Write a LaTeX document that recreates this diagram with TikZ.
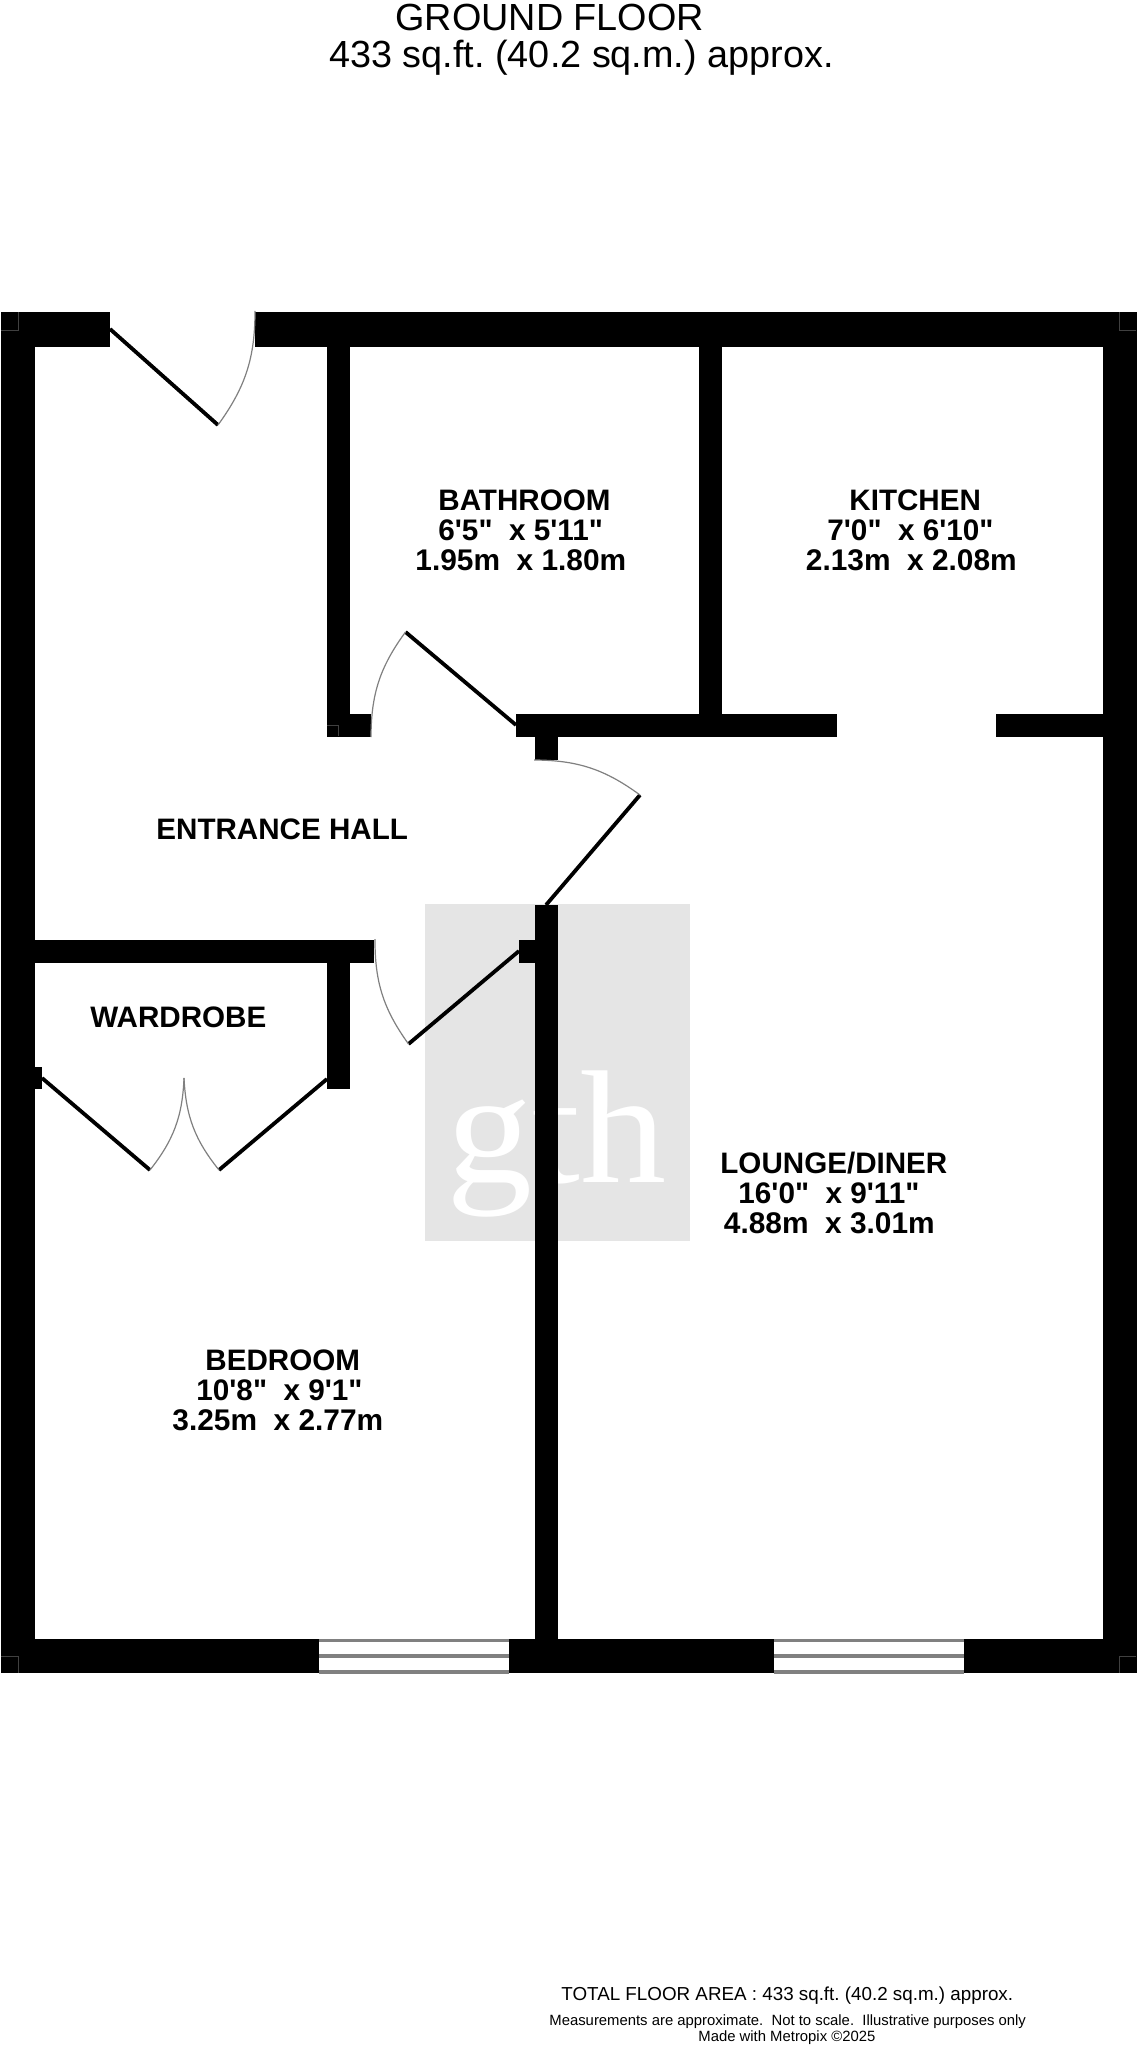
\documentclass[tikz,border=0pt]{standalone}
\usepackage{fontspec}
\newfontfamily\lsans{Liberation Sans}
\newfontfamily\lserif{Liberation Serif}
\frenchspacing
\tikzset{
  x=0.5pt,y=-0.5pt,
  wall/.style={fill=black,draw=none},
  seam/.style={draw=black!75,line width=0.25pt},
  leaf/.style={draw=black,line width=1.9pt},
  swing/.style={draw=black!50,line width=0.6pt},
  pane/.style={draw=black!50,line width=1.6pt},
  lab/.style={anchor=base west,inner sep=0pt,font=\lsans\bfseries\fontsize{14.8}{16}\selectfont},
  feet/.style={anchor=base west,inner sep=0pt,font=\lsans\bfseries\fontsize{14.85}{16}\selectfont},
  metric/.style={anchor=base west,inner sep=0pt,font=\lsans\bfseries\fontsize{14.93}{16}\selectfont},
  ttl/.style={anchor=base west,inner sep=0pt,font=\lsans\fontsize{18.9}{20}\selectfont},
  foot/.style={anchor=base west,inner sep=0pt,font=\lsans\fontsize{9.4}{11}\selectfont},
  small/.style={anchor=base west,inner sep=0pt,font=\lsans\fontsize{7.43}{9}\selectfont},
}
\begin{document}
\begin{tikzpicture}
\useasboundingbox[fill=white] (0,0) rectangle (1138,2048);
% watermark
\fill[black!10] (425,904) rectangle (690,1241);
\node[anchor=base,inner sep=0pt,text=white,font=\lserif\fontsize{80.5}{90}\selectfont] (logo) at (556.5,1182) {\scalebox{1.07}[1]{gth}};
% walls
\fill[wall] (1,312) rectangle (110,347);
\fill[wall] (255,312) rectangle (1136.5,347);
\fill[wall] (1,312) rectangle (35,1673);
\fill[wall] (1103,312) rectangle (1136.5,1673);
\fill[wall] (327,347) rectangle (350,736.5);
\fill[wall] (699,347) rectangle (722,736.5);
\fill[wall] (327,713.5) rectangle (371,736.5);
\fill[wall] (516,713.5) rectangle (837,736.5);
\fill[wall] (996,713.5) rectangle (1103,736.5);
\fill[wall] (535,736) rectangle (558,760);
\fill[wall] (535,905) rectangle (558,1639);
\fill[wall] (519,940) rectangle (535,963);
\fill[wall] (35,940) rectangle (374,963);
\fill[wall] (327,963) rectangle (350,1089);
\fill[wall] (35,1067) rectangle (41.5,1089);
\fill[wall] (1,1639) rectangle (319,1673);
\fill[wall] (509,1639) rectangle (774,1673);
\fill[wall] (964,1639) rectangle (1136.5,1673);
% corner seams
\draw[seam] (1,330) -- (18,330) -- (18,312);
\draw[seam] (1136,330) -- (1119,330) -- (1119,312);
\draw[seam] (1,1656) -- (18,1656) -- (18,1673);
\draw[seam] (1136,1656) -- (1119,1656) -- (1119,1673);
\draw[seam] (327,725) -- (338,725) -- (338,736);
% windows
\draw[pane] (319,1640.5) -- (509,1640.5) (319,1656) -- (509,1656) (319,1672) -- (509,1672);
\draw[pane] (774,1640.5) -- (964,1640.5) (774,1656) -- (964,1656) (774,1672) -- (964,1672);
% doors
\draw[leaf] (110,329) -- (218,425);
\draw[swing] (218,425) to[bend right=18] (255,311);
\draw[leaf] (516,725) -- (405.5,632);
\draw[swing] (405.5,632) to[bend right=18] (371,737);
\draw[leaf] (546,905) -- (640,795);
\draw[swing] (640,795) to[bend right=18] (534,760);
\draw[leaf] (519,951) -- (408.5,1044);
\draw[swing] (408.5,1044) to[bend left=18] (375,939);
\draw[leaf] (42,1078) -- (150,1170);
\draw[swing] (150,1170) to[bend right=18] (184,1078);
\draw[leaf] (327,1079) -- (219,1170);
\draw[swing] (219,1170) to[bend left=18] (184,1078);
% titles
\node[ttl] (t1) at (395,31) {GROUND FLOOR};
\node[ttl] (t2) at (329,68) {433 sq.ft. (40.2 sq.m.) approx.};
% labels
\node[lab] (b1) at (438,510) {BATHROOM};
\node[feet] (b2) at (438,540) {6'5"~ x 5'11"};
\node[metric] (b3) at (415,570) {1.95m~ x 1.80m};
\node[lab] (k1) at (849,510) {KITCHEN};
\node[feet] (k2) at (827,540) {7'0"~ x 6'10"};
\node[metric] (k3) at (805.5,570) {2.13m~ x 2.08m};
\node[lab] (e1) at (156,839) {ENTRANCE HALL};
\node[lab] (w1) at (90,1027) {WARDROBE};
\node[lab] (l1) at (720,1173) {LOUNGE/DINER};
\node[feet] (l2) at (738,1203) {16'0"~ x 9'11"};
\node[metric] (l3) at (723.5,1233) {4.88m~ x 3.01m};
\node[lab] (r1) at (205,1370) {BEDROOM};
\node[feet] (r2) at (196,1400) {10'8"~ x 9'1"};
\node[metric] (r3) at (172,1430) {3.25m~ x 2.77m};
% footer
\node[foot] (f1) at (561,2000) {TOTAL FLOOR AREA : 433 sq.ft. (40.2 sq.m.) approx.};
\node[small] (f2) at (549,2025) {Measurements are approximate.~ Not to scale.~ Illustrative purposes only};
\node[small] (f3) at (698,2041) {Made with Metropix \textcopyright 2025};
\end{tikzpicture}
\end{document}
